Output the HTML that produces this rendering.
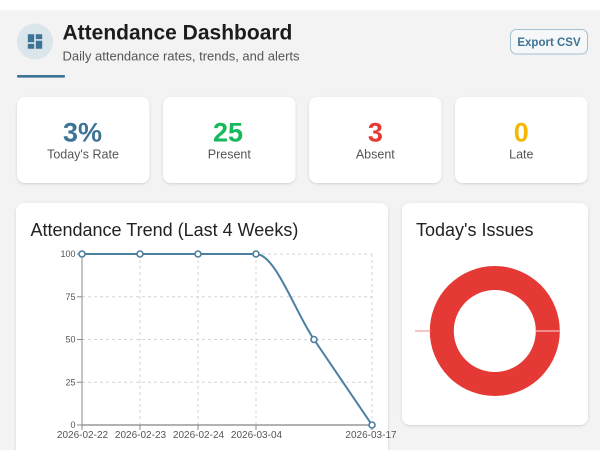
<!DOCTYPE html>
<html>
<head>
<meta charset="utf-8">
<style>
  html,body{margin:0;padding:0;width:600px;height:450px;overflow:hidden;background:#f3f3f3;}
  svg{display:block;font-family:"Liberation Sans",Arial,sans-serif;}
</style>
</head>
<body>
<svg width="600" height="450" viewBox="0 0 600 450" xmlns="http://www.w3.org/2000/svg">
  <defs>
    <filter id="sh" x="-10%" y="-10%" width="120%" height="130%">
      <feDropShadow dx="0" dy="1" stdDeviation="1.2" flood-color="#000" flood-opacity="0.14"/>
    </filter>
  </defs>
  <rect x="0" y="0" width="600" height="450" fill="#f3f3f3"/>
  <rect x="0" y="0" width="600" height="10" fill="#ffffff"/>

  <!-- Header -->
  <circle cx="35" cy="41.5" r="18" fill="#dbe5ec"/>
  <path transform="translate(25.4,31.9) scale(0.8)" d="M3 13h8V3H3v10zm0 8h8v-6H3v6zm10 0h8V11h-8v10zm0-18v6h8V3h-8z" fill="#3d7396"/>
  <text x="62.5" y="39.5" font-size="21" font-weight="bold" fill="#1c1c1c">Attendance Dashboard</text>
  <text x="62.5" y="60.7" font-size="13" fill="#555">Daily attendance rates, trends, and alerts</text>
  <rect x="17" y="75" width="48" height="2.6" rx="1" fill="#3d7396"/>

  <rect x="510.5" y="29.5" width="77" height="24.5" rx="6" fill="#f6f7f8" stroke="#a3bfd2" stroke-width="1"/>
  <text x="549" y="46" font-size="11.5" font-weight="bold" fill="#3d7396" text-anchor="middle">Export CSV</text>

  <!-- Stat cards -->
  <g filter="url(#sh)" fill="#fff">
    <rect x="17" y="97" width="132.5" height="86" rx="8"/>
    <rect x="163" y="97" width="132.5" height="86" rx="8"/>
    <rect x="309" y="97" width="132.5" height="86" rx="8"/>
    <rect x="455" y="97" width="132.5" height="86" rx="8"/>
  </g>
  <g font-size="27" font-weight="bold" text-anchor="middle">
    <text x="82.5" y="141.5" fill="#3d7396">3%</text>
    <text x="228" y="141.5" fill="#16b95b">25</text>
    <text x="375.4" y="141.5" fill="#e53935">3</text>
    <text x="521.3" y="141.5" fill="#f5b800">0</text>
  </g>
  <g font-size="12.5" fill="#555" text-anchor="middle">
    <text x="83" y="158.3">Today's Rate</text>
    <text x="229.3" y="158.3">Present</text>
    <text x="375.3" y="158.3">Absent</text>
    <text x="521.3" y="158.3">Late</text>
  </g>

  <!-- Chart cards -->
  <g filter="url(#sh)" fill="#fff">
    <rect x="16" y="203" width="372" height="262" rx="8"/>
    <rect x="402" y="203" width="186" height="222" rx="8"/>
  </g>
  <text x="30.5" y="236" font-size="18" fill="#222">Attendance Trend (Last 4 Weeks)</text>
  <text x="416" y="236" font-size="18" fill="#222">Today's Issues</text>

  <!-- grid -->
  <g stroke="#d6d6d6" stroke-width="1" stroke-dasharray="3 3" fill="none">
    <line x1="82" y1="254" x2="372" y2="254"/>
    <line x1="82" y1="296.75" x2="372" y2="296.75"/>
    <line x1="82" y1="339.5" x2="372" y2="339.5"/>
    <line x1="82" y1="382.25" x2="372" y2="382.25"/>
    <line x1="140" y1="254" x2="140" y2="425"/>
    <line x1="198" y1="254" x2="198" y2="425"/>
    <line x1="256" y1="254" x2="256" y2="425"/>
    <line x1="372" y1="254" x2="372" y2="425"/>
  </g>
  <!-- axes -->
  <g stroke="#888" stroke-width="1" fill="none">
    <line x1="82" y1="254" x2="82" y2="425.5"/>
    <line x1="82" y1="425" x2="372" y2="425" stroke="#999" stroke-width="1.5"/>
    <line x1="77" y1="254" x2="82" y2="254"/>
    <line x1="77" y1="296.75" x2="82" y2="296.75"/>
    <line x1="77" y1="339.5" x2="82" y2="339.5"/>
    <line x1="77" y1="382.25" x2="82" y2="382.25"/>
    <line x1="77" y1="425" x2="82" y2="425"/>
    <line x1="82" y1="425" x2="82" y2="430"/>
    <line x1="140" y1="425" x2="140" y2="430"/>
    <line x1="198" y1="425" x2="198" y2="430"/>
    <line x1="256" y1="425" x2="256" y2="430"/>
    <line x1="372" y1="425" x2="372" y2="430"/>
  </g>
  <g font-size="9" fill="#555" text-anchor="end">
    <text x="75.5" y="257.2">100</text>
    <text x="75.5" y="300">75</text>
    <text x="75.5" y="342.7">50</text>
    <text x="75.5" y="385.5">25</text>
    <text x="75.5" y="428.2">0</text>
  </g>
  <g font-size="10" fill="#555" text-anchor="middle">
    <text x="82.5" y="438">2026-02-22</text>
    <text x="140.5" y="438">2026-02-23</text>
    <text x="198.5" y="438">2026-02-24</text>
    <text x="256.5" y="438">2026-03-04</text>
    <text x="371" y="438">2026-03-17</text>
  </g>

  <!-- line series -->
  <path d="M82,254 L256,254 C275.33,254 294.67,311 314,339.5 L372,425" fill="none" stroke="#4a7fa0" stroke-width="2"/>
  <g fill="#fff" stroke="#4a7fa0" stroke-width="1.6">
    <circle cx="82" cy="254" r="3"/>
    <circle cx="140" cy="254" r="3"/>
    <circle cx="198" cy="254" r="3"/>
    <circle cx="256" cy="254" r="3"/>
    <circle cx="314" cy="339.5" r="3"/>
    <circle cx="372" cy="425" r="3"/>
  </g>

  <!-- donut -->
  <circle cx="494.8" cy="331" r="53" fill="none" stroke="#e53935" stroke-width="24"/>
  <line x1="415" y1="331" x2="431" y2="331" stroke="#f08a8a" stroke-width="1"/>
  <line x1="536" y1="331" x2="559.5" y2="331" stroke="#ffffff" stroke-opacity="0.85" stroke-width="1"/>
</svg>
</body>
</html>
